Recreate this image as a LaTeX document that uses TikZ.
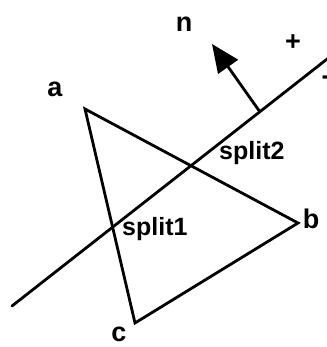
\documentclass[tikz,border=0pt]{standalone}
\usepackage{fontspec}
\setmainfont{Liberation Sans}
\usetikzlibrary{arrows.meta,positioning}

\begin{document}
\begin{tikzpicture}[x=1pt,y=-1pt,
  edge/.style={line width=2.8pt,line cap=round,line join=miter},
  lbl/.style={font=\bfseries\fontsize{27}{27}\selectfont,inner sep=0pt,anchor=base},
  splitlbl/.style={font=\bfseries\fontsize{25}{25}\selectfont,inner sep=0pt,anchor=base west},
  arr/.style={line width=2.8pt,-{Triangle[length=28pt,width=24pt]}}
]
\useasboundingbox (0,0) rectangle (326,347);
% triangle corners
\coordinate (a) at (85,109);
\coordinate (b) at (298,223);
\coordinate (c) at (135,323);
\draw[edge] (a) -- (b) -- (c) -- cycle;

% splitting line and its normal
\coordinate (s0) at (12,306);
\coordinate (s1) at (345,45);
\draw[edge] (s0) -- (s1);
\coordinate (nbase) at (260,112);
\coordinate (ntip) at (212,44);
\draw[arr] (nbase) -- (ntip);

\node[lbl] (la) at (55,97) {a};
\node[lbl] (lb) at (311,228) {b};
\node[lbl] (lc) at (119,341) {c};
\node[lbl] (ln) at (184,32) {n};
\node[lbl] (lplus) at (293,51) {+};
\node[lbl] (lminus) at (326,85) {-};
\node[splitlbl] (sp1) at (122,235) {split1};
\node[splitlbl] (sp2) at (219,160) {split2};
\end{tikzpicture}
\end{document}
